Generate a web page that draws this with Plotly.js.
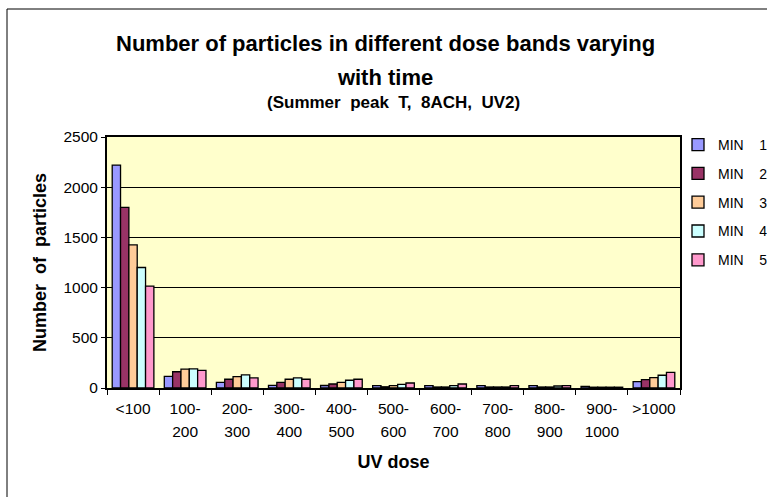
<!DOCTYPE html>
<html>
<head>
<meta charset="utf-8">
<script src="https://cdn.plot.ly/plotly-3.0.1.min.js"></script>
<style>html,body{margin:0;padding:0;background:#fff;}#chart{width:767px;height:497px;}</style>
</head>
<body>
<div id="chart"></div>
<script>
var categories = ["<100", "100-200", "200-300", "300-400", "400-500", "500-600", "600-700", "700-800", "800-900", "900-1000", ">1000"];
var seriesNames = ["MIN 1", "MIN 2", "MIN 3", "MIN 4", "MIN 5"];
var min1 = [2220, 115, 57, 27, 25, 23, 23, 23, 23, 16, 63];
var min2 = [1800, 162, 87, 57, 40, 12, 10, 10, 10, 8, 83];
var min3 = [1425, 188, 113, 87, 57, 23, 10, 10, 10, 8, 103];
var min4 = [1200, 190, 130, 100, 77, 37, 23, 10, 20, 8, 127];
var min5 = [1015, 175, 100, 87, 87, 50, 40, 23, 23, 8, 156];
var colors = ["#9999FF", "#993366", "#FFCC99", "#CCFFFF", "#FF99CC"];

function esc(s) { return s.replace(/</g, "&lt;").replace(/>/g, "&gt;"); }
var tickText = categories.map(function (c) {
  var parts = c.indexOf("-") > 0 ? [c.slice(0, c.indexOf("-") + 1), c.slice(c.indexOf("-") + 1)] : [c];
  return parts.map(function (p) { return "<span style='font-size:15.5px'>" + esc(p) + "</span>"; }).join("<br>");
});

var allSeries = [min1, min2, min3, min4, min5];
var traces = allSeries.map(function (vals, i) {
  return {
    type: "bar",
    name: seriesNames[i].replace(" ", "&nbsp;&nbsp;&nbsp;&nbsp;"),
    x: categories,
    y: vals,
    legendgroup: "g" + i,
    marker: { color: colors[i], line: { color: "#000", width: 1.3 } }
  };
});

var font = "Liberation Sans, Arial, sans-serif";
var T = 137, B = 388, L = 107, R = 680;
function py(p) { return (B - p) / (B - T); }
function px(p) { return (p - L) / (R - L); }

var layout = {
  width: 767,
  height: 497,
  margin: { l: L, r: 767 - R, t: T, b: 497 - B, autoexpand: false },
  paper_bgcolor: "#fff",
  plot_bgcolor: "#FFFFCC",
  barmode: "group",
  bargap: 0.2,
  bargroupgap: 0,
  font: { family: font, color: "#000", size: 14 },
  annotations: [{
    text: "<b><span style='font-size:22px'>Number of particles in different dose bands varying</span><br><span style='font-size:22px'>with time</span></b>",
    xref: "paper", yref: "paper", x: px(385), y: py(60),
    xanchor: "center", yanchor: "middle", showarrow: false,
    font: { family: font, size: 26, color: "#000" }
  }, {
    text: "<b>(Summer&nbsp; peak&nbsp; T,&nbsp; 8ACH,&nbsp; UV2)</b>",
    xref: "paper", yref: "paper", x: px(393), y: py(103),
    xanchor: "center", yanchor: "middle", showarrow: false,
    font: { family: font, size: 17, color: "#000" }
  }],
  xaxis: {
    type: "category",
    tickmode: "array",
    tickvals: categories,
    ticktext: tickText,
    tickangle: 0,
    tickson: "boundaries",
    ticks: "outside",
    ticklen: 5,
    tickcolor: "#000",
    ticklabelstandoff: 3,
    showline: true,
    linecolor: "#000",
    linewidth: 2,
    mirror: true,
    showgrid: false,
    tickfont: { family: font, size: 17.5, color: "#000" },
    title: { text: "<b>UV dose</b>", font: { family: font, size: 18, color: "#000" }, standoff: 17 },
    automargin: false
  },
  yaxis: {
    range: [0, 2500],
    dtick: 500,
    ticks: "outside",
    ticklen: 4,
    tickcolor: "#000",
    showline: true,
    linecolor: "#000",
    linewidth: 2,
    mirror: true,
    showgrid: true,
    gridcolor: "#000",
    gridwidth: 1,
    zeroline: false,
    tickfont: { family: font, size: 15.5, color: "#000" },
    title: { text: "<b>Number&nbsp; of&nbsp; particles</b>", font: { family: font, size: 18, color: "#000" }, standoff: 12 },
    automargin: false
  },
  legend: {
    x: px(678), xanchor: "left",
    y: py(129), yanchor: "top",
    traceorder: "grouped",
    tracegroupgap: 7.6,
    font: { family: font, size: 14, color: "#000" },
    bgcolor: "rgba(0,0,0,0)",
    itemwidth: 30
  },
  shapes: [{
    type: "rect", xref: "paper", yref: "paper",
    x0: px(7), x1: px(775),
    y0: py(505), y1: py(9),
    line: { color: "#000", width: 1 }, fillcolor: "rgba(0,0,0,0)", layer: "below"
  }]
};

Plotly.newPlot("chart", traces, layout, { displayModeBar: false, staticPlot: true });
</script>
</body>
</html>
